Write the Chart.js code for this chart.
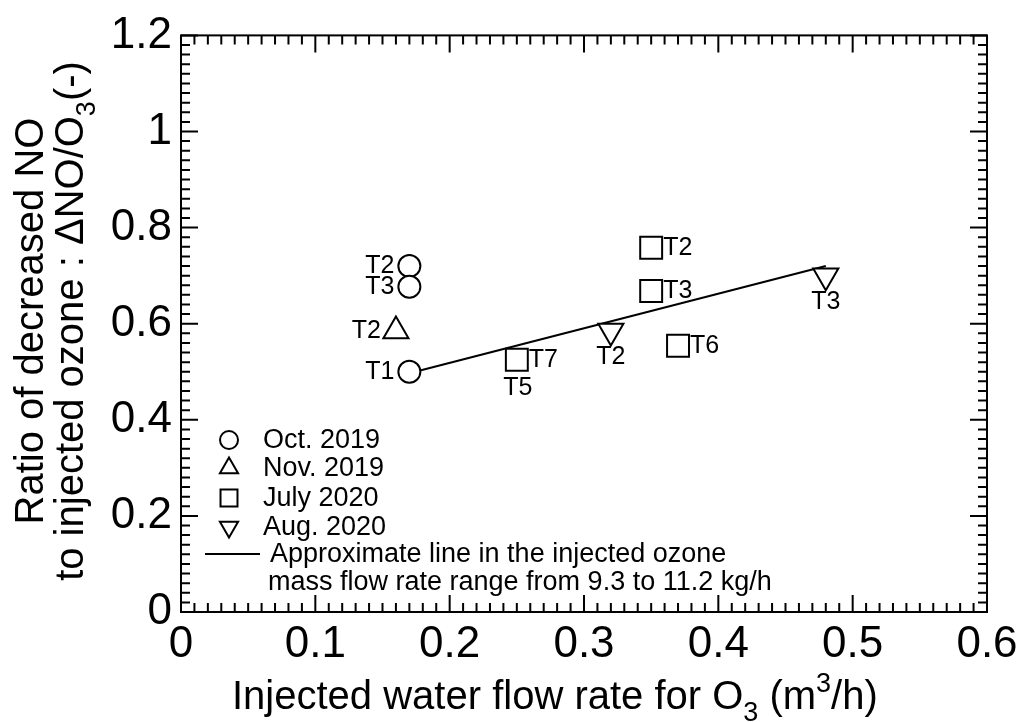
<!DOCTYPE html>
<html>
<head>
<meta charset="utf-8">
<script src="https://cdn.jsdelivr.net/npm/chart.js@4.4.1/dist/chart.umd.min.js"></script>
<style>
  html, body { margin: 0; padding: 0; background: #fff; }
  #wrap { width: 1027px; height: 722px; }
</style>
</head>
<body>
<div id="wrap"><canvas id="ozoneChart"></canvas></div>
<script>
// x = injected water flow rate (m3/h), y = dNO/O3 (-)
const octX = [0.17, 0.17, 0.17];
const octY = [0.72, 0.677, 0.50];
const octLabels = ['T2', 'T3', 'T1'];

const novX = [0.16];
const novY = [0.585];
const novLabels = ['T2'];

const julX = [0.25, 0.35, 0.35, 0.37];
const julY = [0.525, 0.758, 0.668, 0.554];
const julLabels = ['T7', 'T2', 'T3', 'T6'];
const julLabelsBelow = ['T5', '', '', ''];

const augX = [0.32, 0.48];
const augY = [0.585, 0.70];
const augLabels = ['T2', 'T3'];

const fitX = [0.17, 0.48];
const fitY = [0.497, 0.72];

const xTicks = [0, 0.1, 0.2, 0.3, 0.4, 0.5, 0.6];
const yTicks = [0, 0.2, 0.4, 0.6, 0.8, 1, 1.2];

const legendNames = ['Oct. 2019', 'Nov. 2019', 'July 2020', 'Aug. 2020'];
const fitLegend = ['Approximate line in the injected ozone', 'mass flow rate range from 9.3 to 11.2 kg/h'];

const FONT = 'Arial, "Liberation Sans", sans-serif';

function pts(xs, ys) {
  return xs.map((x, i) => ({ x: x, y: ys[i] }));
}

// draw a text made of runs, sub/sup supported. returns width
function runsWidth(ctx, runs, size) {
  let w = 0;
  runs.forEach(r => {
    ctx.font = (r.s ? Math.round(size * 0.68) : size) + 'px ' + FONT;
    w += ctx.measureText(r.t).width;
  });
  return w;
}
function drawRuns(ctx, runs, x, y, size) {
  let cx = x;
  runs.forEach(r => {
    const small = Math.round(size * 0.68);
    ctx.font = (r.s ? small : size) + 'px ' + FONT;
    let dy = 0;
    if (r.s === 'sub') dy = size * 0.3;
    if (r.s === 'sup') dy = -size * 0.42;
    ctx.fillText(r.t, cx, y + dy);
    cx += ctx.measureText(r.t).width;
  });
}

const decorPlugin = {
  id: 'decor',
  afterDraw(chart) {
    const ctx = chart.ctx;
    const xs = chart.scales.x, ys = chart.scales.y;
    const a = chart.chartArea;
    ctx.save();
    ctx.strokeStyle = '#000';
    ctx.fillStyle = '#000';
    ctx.lineWidth = 2;

    // frame
    ctx.strokeRect(a.left, a.top, a.right - a.left, a.bottom - a.top);

    // inward ticks on all sides
    ctx.beginPath();
    for (let i = 0; i <= 60; i++) {
      const px = xs.getPixelForValue(i / 100);
      const len = (i % 10 === 0) ? 17 : 9;
      ctx.moveTo(px, a.bottom); ctx.lineTo(px, a.bottom - len);
      ctx.moveTo(px, a.top); ctx.lineTo(px, a.top + len);
    }
    for (let i = 0; i <= 60; i++) {
      const py = ys.getPixelForValue(i / 50);
      const len = (i % 10 === 0) ? 17 : 9;
      ctx.moveTo(a.left, py); ctx.lineTo(a.left + len, py);
      ctx.moveTo(a.right, py); ctx.lineTo(a.right - len, py);
    }
    ctx.stroke();

    // point labels
    ctx.font = '25px ' + FONT;
    ctx.textBaseline = 'middle';
    chart.data.datasets.forEach((ds, di) => {
      if (!ds.ptLabels) return;
      const meta = chart.getDatasetMeta(di);
      meta.data.forEach((el, i) => {
        const t = ds.ptLabels[i];
        if (ds.labelSide === 'left') {
          ctx.textAlign = 'right';
          ctx.fillText(t, el.x - 15, el.y);
        } else if (ds.labelSide === 'right') {
          ctx.textAlign = 'left';
          ctx.fillText(t, el.x + 12, el.y);
        } else {
          ctx.textAlign = 'center';
          ctx.fillText(t, el.x, el.y + 26);
        }
        if (ds.ptLabelsBelow && ds.ptLabelsBelow[i]) {
          ctx.textAlign = 'center';
          ctx.fillText(ds.ptLabelsBelow[i], el.x + 1, el.y + 28);
        }
      });
    });

    // legend
    const lx = 229;
    const rows = [440, 468, 498, 527];
    const styles = [
      { s: 'circle', r: 9, rot: 0 },
      { s: 'triangle', r: 10.5, rot: 0 },
      { s: 'rect', r: 12, rot: 0 },
      { s: 'triangle', r: 10.5, rot: 180 }
    ];
    ctx.font = '27px ' + FONT;
    ctx.textAlign = 'left';
    ctx.textBaseline = 'middle';
    rows.forEach((ry, i) => {
      ctx.lineWidth = 2;
      ctx.fillStyle = '#fff';
      ctx.strokeStyle = '#000';
      Chart.helpers.drawPoint(ctx, { pointStyle: styles[i].s, radius: styles[i].r, rotation: styles[i].rot, borderWidth: 2 }, lx, ry);
      ctx.fillStyle = '#000';
      ctx.fillText(legendNames[i], 263, ry + 1);
    });
    ctx.beginPath();
    ctx.moveTo(205, 554); ctx.lineTo(260, 554);
    ctx.stroke();
    ctx.fillText(fitLegend[0], 270, 555);
    ctx.fillText(fitLegend[1], 268, 583);

    // axis titles
    ctx.textBaseline = 'alphabetic';
    ctx.textAlign = 'left';
    const xRuns = [{ t: 'Injected water flow rate for O' }, { t: '3', s: 'sub' }, { t: ' (m' }, { t: '3', s: 'sup' }, { t: '/h)' }];
    drawRuns(ctx, xRuns, 232, 709, 40);

    const y1 = [{ t: 'Ratio of decreased NO' }];
    const y2 = [{ t: 'to injected ozone : \u0394NO/O' }, { t: '3', s: 'sub' }, { t: '(-)' }];
    const cy = 321;
    ctx.save();
    ctx.translate(43, cy);
    ctx.rotate(-Math.PI / 2);
    drawRuns(ctx, y1, -runsWidth(ctx, y1, 40) / 2, 0, 40);
    ctx.restore();
    ctx.save();
    ctx.translate(83, cy);
    ctx.rotate(-Math.PI / 2);
    drawRuns(ctx, y2, -runsWidth(ctx, y2, 40) / 2, 0, 40);
    ctx.restore();

    ctx.restore();
  }
};

const markerBase = {
  type: 'scatter',
  borderColor: '#000',
  backgroundColor: '#fff',
  pointBorderWidth: 2,
  showLine: false
};

new Chart(document.getElementById('ozoneChart'), {
  data: {
    datasets: [
      Object.assign({}, markerBase, { label: 'Oct. 2019', data: pts(octX, octY), pointStyle: 'circle', pointRadius: 11, ptLabels: octLabels, labelSide: 'left' }),
      Object.assign({}, markerBase, { label: 'Nov. 2019', data: pts(novX, novY), pointStyle: 'triangle', pointRadius: 14.5, ptLabels: novLabels, labelSide: 'left' }),
      Object.assign({}, markerBase, { label: 'July 2020', data: pts(julX, julY), pointStyle: 'rect', pointRadius: 15.5, ptLabels: julLabels, ptLabelsBelow: julLabelsBelow, labelSide: 'right' }),
      Object.assign({}, markerBase, { label: 'Aug. 2020', data: pts(augX, augY), pointStyle: 'triangle', pointRotation: 180, pointRadius: 14.5, ptLabels: augLabels, labelSide: 'below' }),
      {
        type: 'line',
        label: 'Approximate line',
        data: pts(fitX, fitY),
        borderColor: '#000',
        borderWidth: 2,
        pointRadius: 0,
        fill: false
      }
    ]
  },
  options: {
    responsive: true,
    maintainAspectRatio: false,
    animation: false,
    events: [],
    layout: { padding: { left: 0, right: 40, top: 34, bottom: 0 } },
    plugins: { legend: { display: false }, tooltip: { enabled: false } },
    scales: {
      x: {
        type: 'linear',
        min: 0, max: 0.6,
        afterBuildTicks: s => { s.ticks = xTicks.map(v => ({ value: v })); },
        afterFit: s => { s.height = 110; },
        grid: { display: false, drawTicks: false },
        border: { display: false },
        ticks: { color: '#000', font: { family: FONT, size: 44 }, padding: 6, maxRotation: 0, autoSkip: false, callback: v => String(v) }
      },
      y: {
        type: 'linear',
        min: 0, max: 1.2,
        afterBuildTicks: s => { s.ticks = yTicks.map(v => ({ value: v })); },
        afterFit: s => { s.width = 181; },
        grid: { display: false, drawTicks: false },
        border: { display: false },
        ticks: { color: '#000', font: { family: FONT, size: 44 }, padding: 9, autoSkip: false, callback: v => String(v) }
      }
    }
  },
  plugins: [decorPlugin]
});
</script>
</body>
</html>
